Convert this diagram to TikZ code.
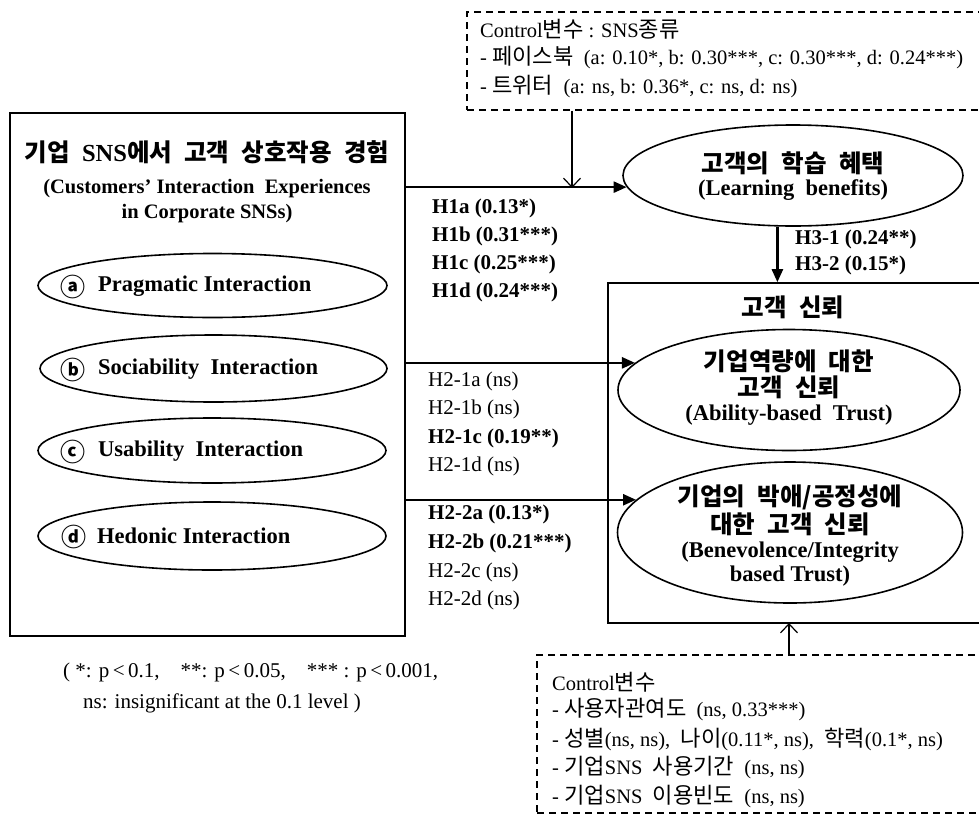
\documentclass[tikz,border=0pt]{standalone}
\usepackage{fontspec}
\setmainfont{Liberation Serif}
\newfontfamily\kor{Noto Sans CJK KR}
\newfontfamily\korc[Scale=1.08]{Noto Sans CJK KR}
\newcommand{\ko}[1]{{\kor #1}}
\newcommand{\kc}[1]{{\korc #1}}
\newcommand{\ksp}{\hspace{0.5em}}
\usetikzlibrary{arrows.meta,shapes.geometric}
\begin{document}
\begin{tikzpicture}[x=1pt,y=-1pt,
  frame/.style={draw, line width=1.6pt, rectangle, inner sep=0pt},
  dbox/.style={draw, dash pattern=on 7pt off 5pt, line width=1.6pt, rectangle, inner sep=0pt},
  ell/.style={draw, ellipse, line width=1.6pt, inner sep=0pt},
  arr/.style={line width=2.4pt, -{Triangle[length=13pt,width=11pt]}},
  carr/.style={line width=1.2pt, -{Straight Barb[length=9pt,width=17pt]}},
  lbl/.style={anchor=west, inner sep=0pt, font=\fontsize{21}{24}\selectfont},
  lblb/.style={anchor=west, inner sep=0pt, font=\bfseries\fontsize{21}{24}\selectfont},
  ctl/.style={anchor=west, inner sep=0pt, font=\fontsize{20.5}{24}\selectfont},
  itxt/.style={anchor=west, inner sep=0pt, font=\bfseries\fontsize{22.5}{25}\selectfont},
  circ/.style={inner sep=0pt, font=\kor\bfseries\fontsize{25}{26}\selectfont},
  ktitle/.style={inner sep=0pt, font=\bfseries\fontsize{24.5}{26}\selectfont},
  etitle/.style={inner sep=0pt, font=\bfseries\fontsize{20.5}{24}\selectfont},
  etitleb/.style={inner sep=0pt, font=\bfseries\fontsize{22.5}{25}\selectfont},
  foot/.style={anchor=west, inner sep=0pt, font=\fontsize{21}{24}\selectfont},
]
\useasboundingbox (0,0) rectangle (979,814);
\fill[white] (0,0) rectangle (979,814);

% top control box
\node[dbox, minimum width=540, minimum height=98] (topctrl) at (737,61) {};
\node[ctl] (t1) at (480,29) {Control\kc{변수} : SNS\kc{종류}};
\node[ctl] (t2) at (480,58) {- \kc{페이스북}\ \ (a: 0.10*, b: 0.30***, c: 0.30***, d: 0.24***)};
\node[ctl] (t3) at (480,87) {- \kc{트위터}\ \ (a: ns, b: 0.36*, c: ns, d: ns)};

% left box
\node[frame, minimum width=395, minimum height=523] (exp) at (207.5,374.5) {};
\node[ktitle] (title) at (207,152) {\ko{기업}\ksp SNS\ko{에서}\ksp\ko{고객}\ksp\ko{상호작용}\ksp\ko{경험}};
\node[etitle] (sub1) at (207,189) {(Customers’ Interaction\ \ Experiences};
\node[etitle] (sub2) at (207,214) {in Corporate SNSs)};

\node[ell, minimum width=349, minimum height=64] (ea) at (212.5,285.5) {};
\node[ell, minimum width=347, minimum height=67] (eb) at (213.5,368.5) {};
\node[ell, minimum width=348, minimum height=65] (ec) at (212,450.5) {};
\node[ell, minimum width=348, minimum height=68] (ed) at (212,536) {};
\node[circ] (ca) at (73,287) {ⓐ};
\node[circ] (cb) at (73,370) {ⓑ};
\node[circ] (cc) at (73,452) {ⓒ};
\node[circ] (cd) at (74,537) {ⓓ};
\node[itxt] (ta) at (98,286) {Pragmatic Interaction};
\node[itxt] (tb) at (98,369) {Sociability\ \ Interaction};
\node[itxt] (tc) at (98,451) {Usability\ \ Interaction};
\node[itxt] (td) at (97,536) {Hedonic Interaction};

% learning benefits
\node[ell, minimum width=340, minimum height=101] (learn) at (793,175.5) {};
\node[ktitle] (lk) at (793,163) {\ko{고객의}\ksp\ko{학습}\ksp\ko{혜택}};
\node[etitleb] (le) at (793,190) {(Learning\ \ benefits)};

% trust box
\node[frame, minimum width=404, minimum height=340] (trust) at (810,453) {};
\node[ktitle] (tk) at (793,307) {\ko{고객}\ksp\ko{신뢰}};
\node[ell, minimum width=342, minimum height=121] (abil) at (789,390) {};
\node[ktitle] (ab1) at (789,361) {\ko{기업역량에}\ksp\ko{대한}};
\node[ktitle] (ab2) at (789,387) {\ko{고객}\ksp\ko{신뢰}};
\node[etitleb] (ab3) at (789,415) {(Ability-based\ \ Trust)};
\node[ell, minimum width=345, minimum height=141] (bene) at (790,532.5) {};
\node[ktitle] (bn1) at (790,497) {\ko{기업의}\ksp\ko{박애/공정성에}};
\node[ktitle] (bn2) at (790,524) {\ko{대한}\ksp\ko{고객}\ksp\ko{신뢰}};
\node[etitleb] (bn3) at (790,552) {(Benevolence/Integrity};
\node[etitleb] (bn4) at (790,576) {based Trust)};

% bottom control box
\node[dbox, minimum width=470, minimum height=158] (botctrl) at (772,734) {};
\node[ctl] (b1) at (552,682) {Control\kc{변수}};
\node[ctl] (b2) at (552,710) {- \kc{사용자관여도}\ \ (ns, 0.33***)};
\node[ctl] (b3) at (552,739) {- \kc{성별}(ns, ns),\ \ \kc{나이}(0.11*, ns),\ \ \kc{학력}(0.1*, ns)};
\node[ctl] (b4) at (552,768) {- \kc{기업}SNS\ \ \kc{사용기간}\ \ (ns, ns)};
\node[ctl] (b5) at (552,797) {- \kc{기업}SNS\ \ \kc{이용빈도}\ \ (ns, ns)};

% connectors
\draw[arr] (exp.east |- learn.184.5) -- (learn.184.5);
\draw[arr] (exp.east |- abil.170.9) -- (abil.170.9);
\draw[arr] (exp.east |- bene.168.2) -- (bene.168.2);
\draw[arr] (learn.253.3) -- (trust.north -| learn.253.3);
\coordinate (c1) at (572,188);
\draw[carr] (topctrl.south -| c1) -- (c1);
\coordinate (c2) at (789,623);
\draw[carr] (botctrl.north -| c2) -- (c2);

% path labels
\node[lblb] (h1a) at (432,208) {H1a (0.13*)};
\node[lblb] (h1b) at (432,236) {H1b (0.31***)};
\node[lblb] (h1c) at (432,264) {H1c (0.25***)};
\node[lblb] (h1d) at (432,292) {H1d (0.24***)};
\node[lblb] (h31) at (795,239) {H3-1 (0.24**)};
\node[lblb] (h32) at (795,265) {H3-2 (0.15*)};
\node[lbl] (h21a) at (428,381) {H2-1a (ns)};
\node[lbl] (h21b) at (428,409) {H2-1b (ns)};
\node[lblb] (h21c) at (428,438) {H2-1c (0.19**)};
\node[lbl] (h21d) at (428,466) {H2-1d (ns)};
\node[lblb] (h22a) at (428,514) {H2-2a (0.13*)};
\node[lblb] (h22b) at (428,543) {H2-2b (0.21***)};
\node[lbl] (h22c) at (428,572) {H2-2c (ns)};
\node[lbl] (h22d) at (428,600) {H2-2d (ns)};

% footnote
\node[foot] (f1) at (63,672) {( *: p\,<\,0.1,\ \ \ \ **: p\,<\,0.05,\ \ \ \ *** : p\,<\,0.001,};
\node[foot] (f2) at (83,703) {ns: insignificant at the 0.1 level )};
\end{tikzpicture}
\end{document}
